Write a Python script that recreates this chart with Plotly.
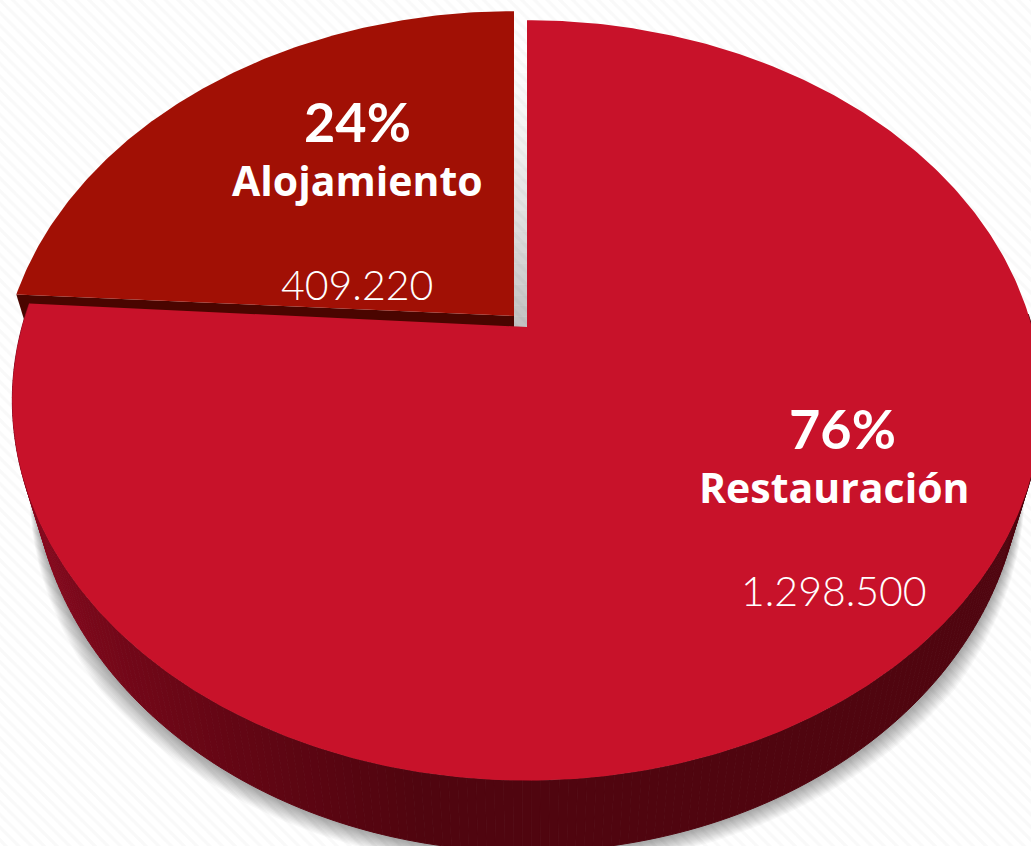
import numpy as np
import plotly.graph_objects as go

# data
categories = ["Restauración", "Alojamiento"]
amounts = [1298500, 409220]
top_colors = ["#C8122A", "#A11005"]
wall_colors = ["#50050F", "#4A0500"]
share_labels = ["76%", "24%"]
amount_labels = ["1.298.500", "409.220"]

W, H = 1031, 846
FONT = "Lato"
NAME_FONT = "Open Sans"

# perspective of the disc, in pixels
CX, CY = 527, 327
RX, RY = 505, 366
PERSP = 0.193
SLICE_SHIFT = (-13, -9)


def project(theta, dx=0, dy=0):
    # theta in degrees, clockwise from the top of the pie
    t = np.radians(theta)
    w = 1 + PERSP * np.cos(t)
    return CX + RX * np.sin(t) / w + dx, CY - RY * np.cos(t) / w + dy


def lower(x, y):
    # the underside of the disc sits lower and looks a little narrower
    return CX + (x - CX) * 0.961, 460 + (y - 400) * 1.029


def add_poly(fig, x, y, color):
    fig.add_trace(go.Scatter(x=list(x), y=list(y), mode="lines", fill="toself",
                             fillcolor=color, line=dict(width=0), hoverinfo="skip",
                             showlegend=False))


def mix(a, b, f):
    return "rgb(%d,%d,%d)" % tuple(a[i] + (b[i] - a[i]) * f for i in range(3))


total = sum(amounts)
main_end = 360 * amounts[0] / total

fig = go.Figure()

# striped page background
fig.add_trace(go.Scatter(x=[0, W, W, 0, 0], y=[0, 0, H, H, 0], mode="lines", fill="toself",
                         fillcolor="white", line=dict(width=0), hoverinfo="skip", showlegend=False,
                         fillpattern=dict(shape="\\", size=9, solidity=0.35,
                                          fgcolor="#F3F3F3", bgcolor="#FFFFFF")))

# soft shadow under the lower half of the disc, tapering away at both ends
arc = np.linspace(98, 262, 160)
sx, sy = lower(*project(arc))
taper = np.clip((arc - 98) / 35, 0, 1) * np.clip((262 - arc) / 35, 0, 1)
for i in range(14, 0, -1):
    grow = 1 + i * 0.0032 * taper
    add_poly(fig, CX + (sx - CX) * grow, 460 + (sy - 460) * grow, "rgba(0,0,0,0.026)")

# light falling through the gap between the two slices
gap_y = np.linspace(20, 327, 30)
for n in range(len(gap_y) - 1):
    alpha = 0.24 * (n / (len(gap_y) - 2)) ** 1.5
    add_poly(fig, [514, 527, 527, 514], [gap_y[n], gap_y[n], gap_y[n + 1], gap_y[n + 1]],
             "rgba(0,0,0,%.3f)" % alpha)

# small slice: wall first, then its face
slice_arc = np.linspace(main_end, 360, 160)
ax, ay = project(slice_arc, *SLICE_SHIFT)
apex = (CX + SLICE_SHIFT[0], CY + SLICE_SHIFT[1] - 2)
add_poly(fig, [ax[0], ax[0] + 8, apex[0], apex[0], ax[0]],
         [ay[0], ay[0] + 26, apex[1] + 14, apex[1], ay[0]], wall_colors[1])
add_poly(fig, np.r_[apex[0], ax, apex[0]], np.r_[apex[1], ay, apex[1]], top_colors[1])

# big slice: curved wall in strips, lighter on the left
dark = (80, 5, 15)
light = (142, 10, 32)
strip_angles = np.linspace(main_end, 88, 220)
for a0, a1 in zip(strip_angles[:-1], strip_angles[1:]):
    th = np.linspace(a0, a1, 3)
    px, py = project(th)
    lx, ly = lower(px, py)
    f = np.clip((a0 - 190) / 60, 0, 1)
    color = mix(dark, light, f)
    fig.add_trace(go.Scatter(x=np.r_[px, lx[::-1]], y=np.r_[py, ly[::-1]], mode="lines",
                             fill="toself", fillcolor=color, line=dict(width=1, color=color),
                             hoverinfo="skip", showlegend=False))

# big slice face
main_arc = np.linspace(0, main_end, 400)
mx, my = project(main_arc)
add_poly(fig, np.r_[CX, mx, CX], np.r_[CY, my, CY], top_colors[0])

# labels
label_pos = [(842, 834, 428, 487, 590), (357, 357, 121, 180, 284)]
for k, (px, nx, y1, y2, y3) in enumerate(label_pos):
    fig.add_annotation(x=px, y=y1, text=share_labels[k], showarrow=False,
                       font=dict(family=FONT, size=54, color="white", weight=700))
    fig.add_annotation(x=nx, y=y2, text=categories[k], showarrow=False,
                       font=dict(family=NAME_FONT, size=41, color="white", weight=700))
    fig.add_annotation(x=nx, y=y3, text=amount_labels[k], showarrow=False,
                       font=dict(family=FONT, size=41, color="white", weight=300))

fig.update_layout(
    width=W, height=H, margin=dict(l=0, r=0, t=0, b=0),
    paper_bgcolor="white", plot_bgcolor="white", showlegend=False,
    xaxis=dict(range=[0, W], visible=False, fixedrange=True),
    yaxis=dict(range=[H, 0], visible=False, fixedrange=True),
)
fig.write_html("out.html", config={"displayModeBar": False},
               post_script="document.body.style.margin='0';document.body.style.overflow='hidden';")
